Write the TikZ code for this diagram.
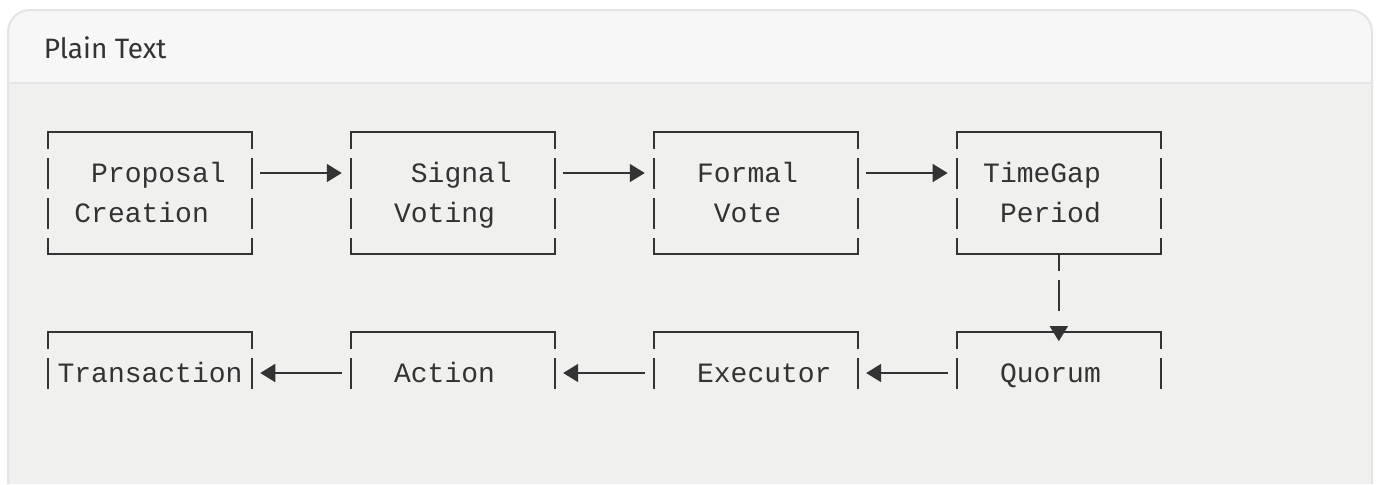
\documentclass[tikz,border=0pt]{standalone}
\usepackage{fontspec}
\setmainfont{Fira Sans}
\setmonofont{Liberation Mono}
\usetikzlibrary{arrows.meta}
\definecolor{cardedge}{HTML}{E4E4E4}
\definecolor{headbg}{HTML}{F7F7F7}
\definecolor{bodybg}{HTML}{F0F0EE}
\definecolor{ink}{HTML}{333333}
\setlength{\parindent}{0pt}
\newlength{\chw}
\setlength{\chw}{8.4pt}
\newcommand{\pad}[1]{\hspace*{#1\chw}}

\begin{document}
\begin{tikzpicture}[x=0.5pt, y=-0.5pt, line width=0.85pt,
    stage/.style={draw=none, inner sep=0pt, minimum width=101pt, align=left, text width=11\chw, text=ink, font=\ttfamily\fontsize{14pt}{20pt}\selectfont},
    stagetall/.style={stage, minimum height=60pt, text height=5pt, text depth=15.3pt},
    stagelow/.style={stage, minimum height=28.5pt, text height=21.2pt, text depth=0pt},
    wall/.style={ink, dash pattern=on 15.5pt off 4.5pt, dash phase=7pt},
    rim/.style={ink, line cap=rect},
    flow/.style={ink, -{Triangle[length=7.5pt, width=9pt]}}]
    \useasboundingbox (0,0) rectangle (1379,484);
    \fill[white] (0,0) rectangle (1379,484);
    % card
    \fill[headbg, rounded corners=11] (8,484) -- (8,10) -- (1372,10) -- (1372,484);
    \fill[bodybg] (8,83) rectangle (1372,484);
    \draw[cardedge, line width=1pt, rounded corners=11] (8,484) -- (8,10) -- (1372,10) -- (1372,484);
    \draw[cardedge, line width=0.6pt] (8,83) -- (1372,83);
    \node[anchor=base west, inner sep=0pt, text=ink, font=\fontsize{14pt}{17pt}\selectfont] (title) at (43,58) {Plain Text};
    % first row
    \node[stagetall] (prop) at (150,193) {\pad{2}Proposal\\\pad{1}Creation};
    \node[stagetall] (signal) at (452.9,193) {\pad{3}Signal\\\pad{2}Voting};
    \node[stagetall] (formal) at (755.9,193) {\pad{2}Formal\\\pad{3}Vote};
    \node[stagetall] (timegap) at (1058.8,193) {\pad{1}TimeGap\\\pad{2}Period};
    % second row
    \node[stagelow] (trans) at (150,361.5) {Transaction};
    \node[stagelow] (action) at (452.9,361.5) {\pad{2}Action};
    \node[stagelow] (executor) at (755.9,361.5) {\pad{2}Executor};
    \node[stagelow] (quorum) at (1058.8,361.5) {\pad{2}Quorum};
    % frames
    \draw[rim] (prop.north west) -- (prop.north east);
    \draw[rim] (prop.south west) -- (prop.south east);
    \draw[wall] (prop.north west) -- (prop.south west);
    \draw[wall] (prop.north east) -- (prop.south east);
    \draw[rim] (signal.north west) -- (signal.north east);
    \draw[rim] (signal.south west) -- (signal.south east);
    \draw[wall] (signal.north west) -- (signal.south west);
    \draw[wall] (signal.north east) -- (signal.south east);
    \draw[rim] (formal.north west) -- (formal.north east);
    \draw[rim] (formal.south west) -- (formal.south east);
    \draw[wall] (formal.north west) -- (formal.south west);
    \draw[wall] (formal.north east) -- (formal.south east);
    \draw[rim] (timegap.north west) -- (timegap.north east);
    \draw[rim] (timegap.south west) -- (timegap.south east);
    \draw[wall] (timegap.north west) -- (timegap.south west);
    \draw[wall] (timegap.north east) -- (timegap.south east);
    \draw[rim] (trans.north west) -- (trans.north east);
    \draw[wall] (trans.north west) -- (trans.south west);
    \draw[wall] (trans.north east) -- (trans.south east);
    \draw[rim] (action.north west) -- (action.north east);
    \draw[wall] (action.north west) -- (action.south west);
    \draw[wall] (action.north east) -- (action.south east);
    \draw[rim] (executor.north west) -- (executor.north east);
    \draw[wall] (executor.north west) -- (executor.south west);
    \draw[wall] (executor.north east) -- (executor.south east);
    \draw[rim] (quorum.north west) -- (quorum.north east);
    \draw[wall] (quorum.north west) -- (quorum.south west);
    \draw[wall] (quorum.north east) -- (quorum.south east);
    % arrows
    \draw[flow] ([shift={(8.4,-20)}]prop.east) -- ([shift={(-9.3,-20)}]signal.west);
    \draw[flow] ([shift={(8.4,-20)}]signal.east) -- ([shift={(-9.3,-20)}]formal.west);
    \draw[flow] ([shift={(8.4,-20)}]formal.east) -- ([shift={(-9.3,-20)}]timegap.west);
    \draw[flow, dash pattern=on 8.5pt off 4.5pt on 15.5pt off 20pt] (timegap.south) -- ([shift={(0,9)}]quorum.north);
    \draw[flow] ([shift={(-9.3,11.5)}]quorum.west) -- ([shift={(8.4,11.5)}]executor.east);
    \draw[flow] ([shift={(-9.3,11.5)}]executor.west) -- ([shift={(8.4,11.5)}]action.east);
    \draw[flow] ([shift={(-9.3,11.5)}]action.west) -- ([shift={(8.4,11.5)}]trans.east);
\end{tikzpicture}
\end{document}
